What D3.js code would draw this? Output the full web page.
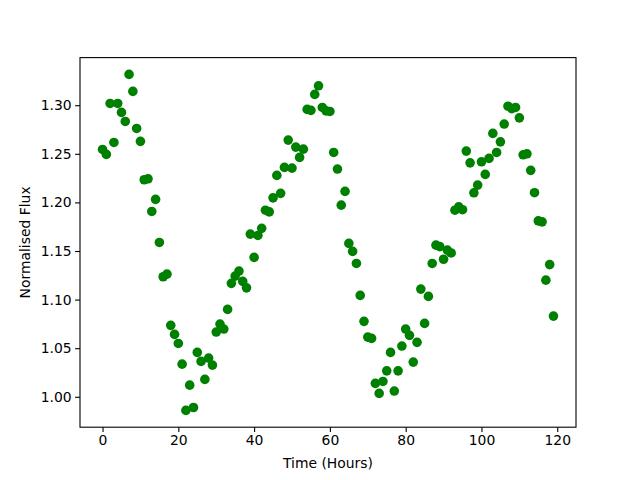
<!DOCTYPE html>
<html>
<head>
<meta charset="utf-8">
<script src="https://cdn.jsdelivr.net/npm/d3@7"></script>
<style>
  body { margin: 0; background: #fff; }
  text { font-family: "DejaVu Sans", sans-serif; }
</style>
</head>
<body>
<svg id="chart" width="640" height="480"></svg>
<script>
// Time in hours, one reading per hour
var hours = d3.range(0, 120);

// Normalised flux
var flux = [
  1.2545, 1.2494, 1.3018, 1.2617, 1.3018, 1.2926, 1.2833, 1.3317, 1.3142, 1.2761,
  1.2628, 1.2233, 1.2243, 1.1907, 1.2031, 1.1588, 1.1235, 1.1262, 1.0735, 1.0642,
  1.0549, 1.0336, 0.9860, 1.0120, 0.9890, 1.0457, 1.0364, 1.0179, 1.0398, 1.0326,
  1.0666, 1.0748, 1.0697, 1.0899, 1.1167, 1.1242, 1.1293, 1.1187, 1.1121, 1.1674,
  1.1434, 1.1660, 1.1733, 1.1920, 1.1903, 1.2047, 1.2278, 1.2093, 1.2360, 1.2641,
  1.2353, 1.2569, 1.2463, 1.2548, 1.2957, 1.2947, 1.3111, 1.3200, 1.2977, 1.2942,
  1.2936, 1.2514, 1.2343, 1.1972, 1.2113, 1.1578, 1.1496, 1.1372, 1.1043, 1.0776,
  1.0614, 1.0601, 1.0138, 1.0035, 1.0158, 1.0267, 1.0457, 1.0059, 1.0267, 1.0522,
  1.0697, 1.0632, 1.0357, 1.0560, 1.1108, 1.0755, 1.1033, 1.1372, 1.1560, 1.1545,
  1.1415, 1.1510, 1.1480, 1.1920, 1.1955, 1.1925, 1.2528, 1.2407, 1.2099, 1.2178,
  1.2418, 1.2288, 1.2453, 1.2710, 1.2514, 1.2623, 1.2806, 1.2990, 1.2965, 1.2977,
  1.2870, 1.2490, 1.2500, 1.2330, 1.2100, 1.1810, 1.1800, 1.1200, 1.1360, 1.0830
];

var xTicks = [0, 20, 40, 60, 80, 100, 120];
var yTicks = [1.00, 1.05, 1.10, 1.15, 1.20, 1.25, 1.30];

var svg = d3.select('#chart');
var margin = {left: 80, right: 64, top: 57.6, bottom: 52.8};
var width = 640 - margin.left - margin.right;
var height = 480 - margin.top - margin.bottom;

// matplotlib-style 5% padding around the data
var pad = function (ext) {
  let d = (ext[1] - ext[0]) * 0.05;
  return [ext[0] - d, ext[1] + d];
};

var x = d3.scaleLinear().domain(pad(d3.extent(hours))).range([0, width]);
var y = d3.scaleLinear().domain(pad(d3.extent(flux))).range([height, 0]);

var g = svg.append('g').attr('transform', `translate(${margin.left},${margin.top})`);

// Points
g.append('g')
  .selectAll('circle')
  .data(hours)
  .join('circle')
    .attr('cx', (d) => x(d))
    .attr('cy', (d, i) => y(flux[i]))
    .attr('r', 4.8)
    .attr('fill', '#008000');

// Axes
var xAxis = g.append('g')
  .attr('transform', `translate(0,${height})`)
  .call(d3.axisBottom(x).tickValues(xTicks).tickSize(4.9).tickPadding(3.5).tickFormat(d3.format('d')));
var yAxis = g.append('g')
  .call(d3.axisLeft(y).tickValues(yTicks).tickSize(4.9).tickPadding(3.5).tickFormat(d3.format('.2f')));

[xAxis, yAxis].forEach((a) => {
  a.select('.domain').remove();
  a.selectAll('.tick line').attr('stroke', '#000').attr('stroke-width', 1.1);
  a.selectAll('.tick text')
    .attr('fill', '#000')
    .style('font-family', '"DejaVu Sans", sans-serif')
    .style('font-size', '13.9px');
});

// Frame
g.append('rect')
  .attr('width', width)
  .attr('height', height)
  .attr('fill', 'none')
  .attr('stroke', '#000')
  .attr('stroke-width', 1.1);

// Axis labels
svg.append('text')
  .attr('x', margin.left + width / 2)
  .attr('y', 468)
  .attr('text-anchor', 'middle')
  .style('font-size', '13.9px')
  .text('Time (Hours)');

svg.append('text')
  .attr('transform', `translate(30,${margin.top + height / 2}) rotate(-90)`)
  .attr('text-anchor', 'middle')
  .style('font-size', '13.9px')
  .text('Normalised Flux');
</script>
</body>
</html>
